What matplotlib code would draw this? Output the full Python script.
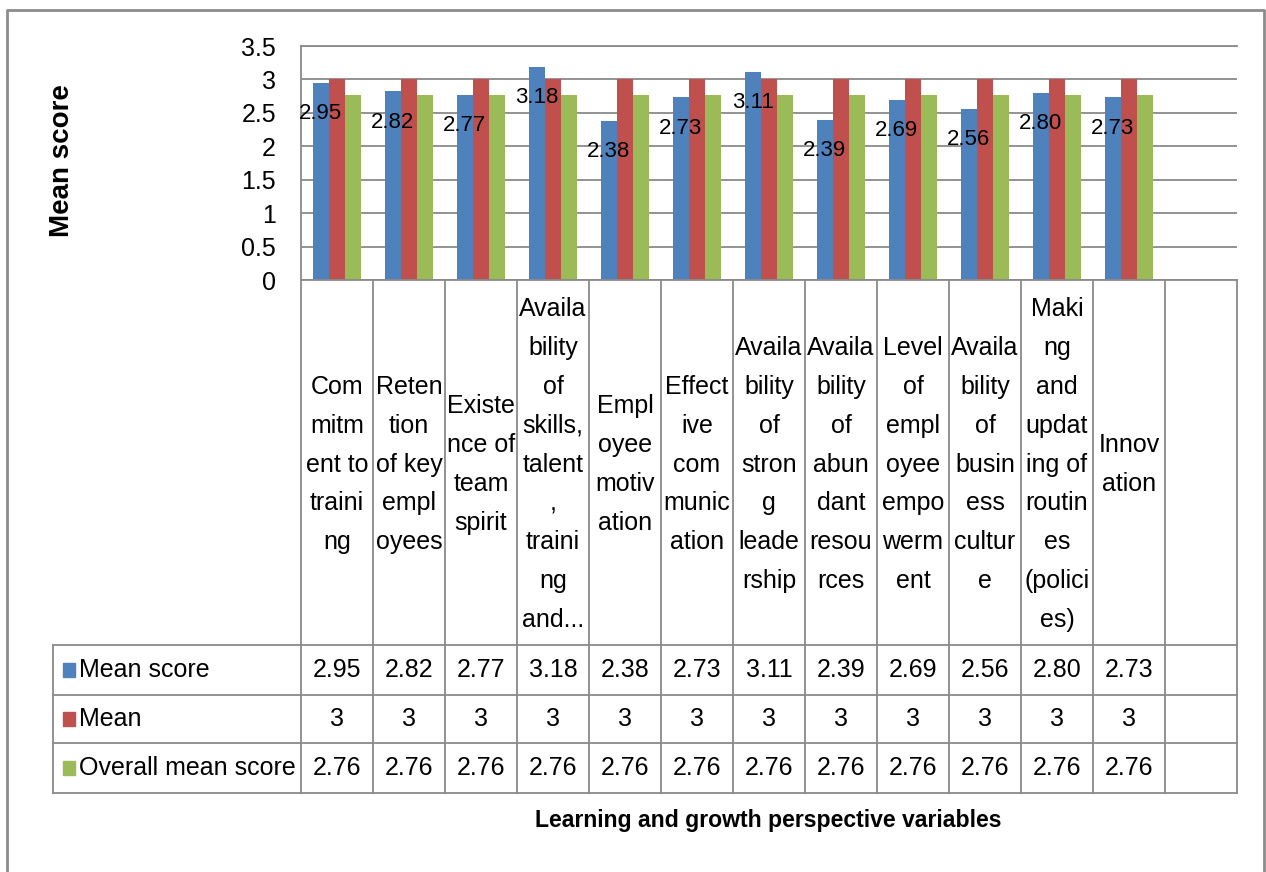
import matplotlib
matplotlib.use("Agg")
import matplotlib.pyplot as plt
from matplotlib.patches import Rectangle
from matplotlib.lines import Line2D

FONT = "Liberation Sans"

categories = [
    "Com\nmitm\nent to\ntraini\nng",
    "Reten\ntion\nof key\nempl\noyees",
    "Existe\nnce of\nteam\nspirit",
    "Availa\nbility\nof\nskills,\ntalent\n,\ntraini\nng\nand...",
    "Empl\noyee\nmotiv\nation",
    "Effect\nive\ncom\nmunic\nation",
    "Availa\nbility\nof\nstron\ng\nleade\nrship",
    "Availa\nbility\nof\nabun\ndant\nresou\nrces",
    "Level\nof\nempl\noyee\nempo\nwerm\nent",
    "Availa\nbility\nof\nbusin\ness\ncultur\ne",
    "Maki\nng\nand\nupdat\ning of\nroutin\nes\n(polici\nes)",
    "Innov\nation",
    "",
]
mean_score = [2.95, 2.82, 2.77, 3.18, 2.38, 2.73, 3.11, 2.39, 2.69, 2.56, 2.80, 2.73]
mean = [3, 3, 3, 3, 3, 3, 3, 3, 3, 3, 3, 3]
overall = [2.76] * 12
series_names = ["Mean score", "Mean", "Overall mean score"]
series_labels = [
    ["2.95", "2.82", "2.77", "3.18", "2.38", "2.73", "3.11", "2.39", "2.69", "2.56", "2.80", "2.73"],
    ["3"] * 12,
    ["2.76"] * 12,
]
colors = ["#4F81BD", "#C0504D", "#9BBB59"]
yticks = [0, 0.5, 1, 1.5, 2, 2.5, 3, 3.5]
ytick_labels = ["0", "0.5", "1", "1.5", "2", "2.5", "3", "3.5"]

W, H = 1266, 872
fig = plt.figure(figsize=(W / 100, H / 100), dpi=100)

def fx(x):
    return x / W

def fy(y):
    return 1 - y / H

GRID = "#8a8a8a"
PL, PR, PT, PB = 301, 1237, 46, 280
ncol = len(categories)
colw = (PR - PL) / ncol

ax = fig.add_axes([fx(PL), fy(PB), fx(PR) - fx(PL), fy(PT) - fy(PB)])
ax.set_xlim(0, ncol)
ax.set_ylim(0, 3.5)
bw = 0.226
xs = [i + 0.5 for i in range(len(mean_score))]
for k, vals in enumerate([mean_score, mean, overall]):
    ax.bar([x + (k - 1) * bw for x in xs], vals, width=bw, color=colors[k], zorder=3)
for x, v, lab in zip(xs, mean_score, series_labels[0]):
    ax.annotate(lab, (x - bw, v), xytext=(0, -22), textcoords="offset points",
                ha="center", va="center", fontsize=16, family=FONT, zorder=4)
ax.set_yticks(yticks)
ax.set_yticklabels(ytick_labels, family=FONT, fontsize=18)
ax.tick_params(axis="y", length=0, pad=18)
ax.set_xticks([])
ax.grid(axis="y", color=GRID, lw=1.3, zorder=0)
for s in ["right", "bottom"]:
    ax.spines[s].set_visible(False)
ax.spines["top"].set_color(GRID)
ax.spines["top"].set_linewidth(1.3)
ax.spines["left"].set_color(GRID)
ax.spines["left"].set_linewidth(1.3)

# table
def hline(y, x0, x1):
    fig.add_artist(Line2D([fx(x0), fx(x1)], [fy(y), fy(y)], color=GRID, lw=1.3))

def vline(x, y0, y1):
    fig.add_artist(Line2D([fx(x), fx(x)], [fy(y0), fy(y1)], color=GRID, lw=1.3))

CAT_B = 645
rows_y = [645, 695, 743, 793]
TL = 53
for i in range(ncol + 1):
    vline(PL + i * colw, PB, rows_y[-1])
vline(TL, rows_y[0], rows_y[-1])
hline(PB, PL, PR)
for y in rows_y:
    hline(y, TL, PR)

for i, c in enumerate(categories):
    fig.text(fx(PL + (i + 0.5) * colw), fy((PB + CAT_B) / 2 + 2), c, ha="center", va="center",
             family=FONT, fontsize=18, linespacing=1.78)

row_vals = [series_labels[0], series_labels[1], series_labels[2]]
for r in range(3):
    yc = (rows_y[r] + rows_y[r + 1]) / 2
    fig.add_artist(Rectangle((fx(63), fy(yc + 7)), fx(12), 14 / H, color=colors[r],
                             transform=fig.transFigure))
    fig.text(fx(79), fy(yc), series_names[r], ha="left", va="center", family=FONT, fontsize=18)
    for i, t in enumerate(row_vals[r]):
        fig.text(fx(PL + (i + 0.5) * colw), fy(yc), t, ha="center", va="center",
                 family=FONT, fontsize=18)

fig.text(fx(62), fy(161), "Mean score", rotation=90, ha="center", va="center",
         family="Liberation Sans", fontweight="bold", fontsize=20)
fig.text(fx(768), fy(820), "Learning and growth perspective variables", ha="center",
         va="center", family=FONT, fontweight="bold", fontsize=16.6)

# outer frame
fig.add_artist(Line2D([fx(7), fx(7), fx(1264), fx(1264)], [0, fy(10), fy(10), 0],
                      color="#8c8c8c", lw=2))

fig.savefig("out.png", dpi=100)
